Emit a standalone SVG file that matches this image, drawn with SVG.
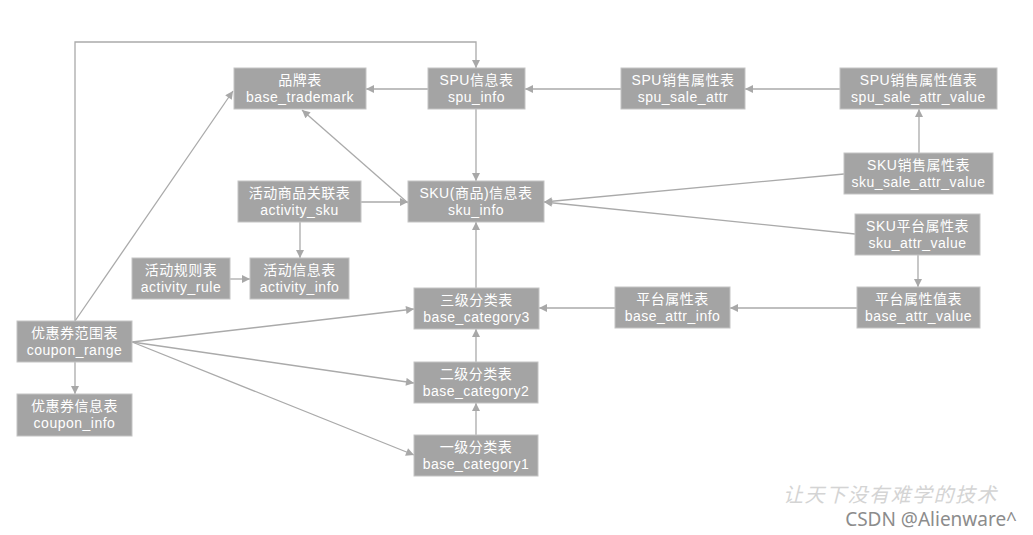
<svg xmlns="http://www.w3.org/2000/svg" width="1033" height="535" viewBox="0 0 1033 535">
<defs>
<marker id="ah" viewBox="0 0 10 10" refX="10" refY="5" markerWidth="9" markerHeight="8" markerUnits="userSpaceOnUse" orient="auto">
<path d="M0,0 L10,5 L0,10 z" fill="#a8a8a8"/>
</marker>
<style>
.n rect{fill:#a4a4a4;stroke:#c4c4c4;stroke-width:1}
.n text{fill:#ffffff;font-family:"Liberation Sans","Noto Sans CJK SC",sans-serif;font-size:14px;text-anchor:middle;letter-spacing:0.5px}
#edges line,#edges polyline{stroke:#aaaaaa;stroke-width:1.3;fill:none;marker-end:url(#ah)}
.wm1{fill:#d4d4d4;font-family:"Noto Sans CJK SC",serif;font-size:20px;font-style:italic;letter-spacing:1.5px}
.wm2{fill:#8c8c8c;font-family:"Noto Sans","Liberation Sans",sans-serif;font-size:19px}
</style>
</defs>
<rect width="1033" height="535" fill="#ffffff"/>
<g id="edges">
<polyline points="75,321 75,42 476,42 476,68"/>
<line x1="75" y1="321" x2="233" y2="91"/>
<line x1="428" y1="89" x2="366" y2="89"/>
<line x1="621" y1="89" x2="525" y2="89"/>
<line x1="840" y1="89" x2="745" y2="89"/>
<line x1="919" y1="153" x2="919" y2="109"/>
<line x1="476" y1="109" x2="476" y2="181"/>
<line x1="408" y1="203" x2="302" y2="110"/>
<line x1="361" y1="202" x2="408" y2="202"/>
<line x1="844" y1="174" x2="544" y2="202"/>
<line x1="855" y1="234" x2="544" y2="202"/>
<line x1="300" y1="222" x2="300" y2="258"/>
<line x1="230" y1="279" x2="250" y2="279"/>
<line x1="918" y1="255" x2="918" y2="287"/>
<line x1="857" y1="308" x2="730" y2="308"/>
<line x1="615" y1="308" x2="539" y2="308"/>
<line x1="476" y1="288" x2="476" y2="222"/>
<line x1="476" y1="362" x2="476" y2="329"/>
<line x1="476" y1="435" x2="476" y2="403"/>
<line x1="132" y1="342" x2="414" y2="309"/>
<line x1="132" y1="342" x2="414" y2="383"/>
<line x1="132" y1="342" x2="414" y2="455"/>
<line x1="75" y1="362" x2="75" y2="394"/>
</g>
<g id="base_trademark" class="n"><rect x="234" y="68" width="132" height="41"/><text x="300" y="85">品牌表</text><text x="300" y="102">base_trademark</text></g>
<g id="spu_info" class="n"><rect x="428" y="68" width="97" height="41"/><text x="476.5" y="85">SPU信息表</text><text x="476.5" y="102">spu_info</text></g>
<g id="spu_sale_attr" class="n"><rect x="621" y="68" width="124" height="41"/><text x="683" y="85">SPU销售属性表</text><text x="683" y="102">spu_sale_attr</text></g>
<g id="spu_sale_attr_value" class="n"><rect x="840" y="68" width="157" height="41"/><text x="918.5" y="85">SPU销售属性值表</text><text x="918.5" y="102">spu_sale_attr_value</text></g>
<g id="sku_info" class="n"><rect x="408" y="181" width="136" height="41"/><text x="476" y="198">SKU(商品)信息表</text><text x="476" y="215">sku_info</text></g>
<g id="activity_sku" class="n"><rect x="238" y="181" width="123" height="41"/><text x="299.5" y="198">活动商品关联表</text><text x="299.5" y="215">activity_sku</text></g>
<g id="sku_sale_attr_value" class="n"><rect x="844" y="153" width="149" height="41"/><text x="918.5" y="170">SKU销售属性表</text><text x="918.5" y="187">sku_sale_attr_value</text></g>
<g id="sku_attr_value" class="n"><rect x="855" y="214" width="125" height="41"/><text x="917.5" y="231">SKU平台属性表</text><text x="917.5" y="248">sku_attr_value</text></g>
<g id="activity_rule" class="n"><rect x="132" y="258" width="98" height="41"/><text x="181" y="275">活动规则表</text><text x="181" y="292">activity_rule</text></g>
<g id="activity_info" class="n"><rect x="250" y="258" width="99" height="41"/><text x="299.5" y="275">活动信息表</text><text x="299.5" y="292">activity_info</text></g>
<g id="base_category3" class="n"><rect x="414" y="288" width="125" height="41"/><text x="476.5" y="305">三级分类表</text><text x="476.5" y="322">base_category3</text></g>
<g id="base_attr_info" class="n"><rect x="615" y="287" width="115" height="41"/><text x="672.5" y="304">平台属性表</text><text x="672.5" y="321">base_attr_info</text></g>
<g id="base_attr_value" class="n"><rect x="857" y="287" width="123" height="41"/><text x="918.5" y="304">平台属性值表</text><text x="918.5" y="321">base_attr_value</text></g>
<g id="coupon_range" class="n"><rect x="17" y="321" width="115" height="41"/><text x="74.5" y="338">优惠券范围表</text><text x="74.5" y="355">coupon_range</text></g>
<g id="base_category2" class="n"><rect x="414" y="362" width="124" height="41"/><text x="476" y="379">二级分类表</text><text x="476" y="396">base_category2</text></g>
<g id="coupon_info" class="n"><rect x="17" y="394" width="115" height="42"/><text x="74.5" y="411">优惠券信息表</text><text x="74.5" y="428">coupon_info</text></g>
<g id="base_category1" class="n"><rect x="414" y="435" width="124" height="41"/><text x="476" y="452">一级分类表</text><text x="476" y="469">base_category1</text></g>
<text class="wm1" x="783" y="502">让天下没有难学的技术</text>
<text class="wm2" x="1017" y="526" text-anchor="end">CSDN @Alienware^</text>
</svg>
